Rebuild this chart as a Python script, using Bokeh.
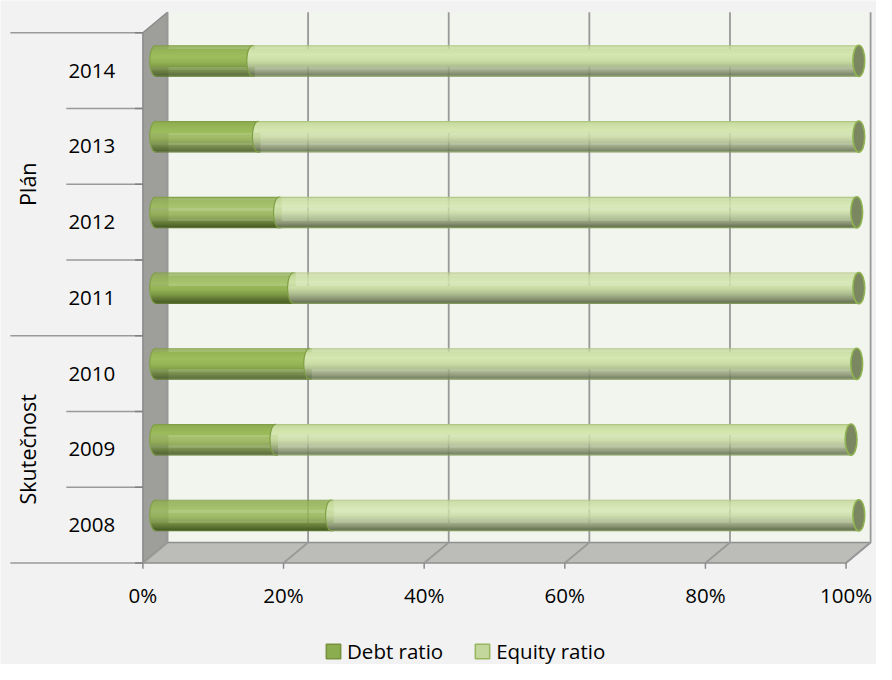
import numpy as np
from bokeh.plotting import figure
from bokeh.models import ColumnDataSource, Legend, LegendItem, Range1d
from bokeh.core.properties import value
from bokeh.embed import file_html
from bokeh.resources import INLINE

# ---------------- data ----------------
years = ["2008", "2009", "2010", "2011", "2012", "2013", "2014"]
groups = ["Skutečnost", "Plán"]
group_sizes = [3, 4]
debt_ratio = [25.0, 17.1, 21.9, 19.6, 17.6, 14.6, 13.8]
equity_ratio = [75.0, 81.8, 77.8, 80.4, 82.1, 85.4, 86.2]
x_ticks = [0, 20, 40, 60, 80, 100]
x_tick_labels = ["0%", "20%", "40%", "60%", "80%", "100%"]
series_names = ["Debt ratio", "Equity ratio"]

# ---------------- geometry (styling) ----------------
W, H = 876, 664
KX, KY = W / 892.0, H / 680.0      # reference px -> figure px
RSX = 7.16                          # reference px per percent
RSY = 77.57                         # reference px per category
RX0, RY0 = 145, 576                 # reference px of 0 % / front bottom edge
PX, PY = 1.0 / RSX, 1.0 / RSY       # data units per reference px
n = len(years)

def rx(px):
    return (px - RX0) * PX

def ry(py):
    return (RY0 - py) * PY

DX, DY = 25 * PX, 21 * PY          # depth of the 3D box
MDX, MDY = 13 * PX, 10 * PY        # bar plane offset
BH = 32 * PY                        # bar thickness
CAP = 6 * PX                        # ellipse half width
NS = 32                             # gradient strips
FONT = "Open Sans"
FS = "20.5px"

p = figure(width=W, height=H,
           x_range=Range1d(rx(0), rx(892)),
           y_range=Range1d(ry(680), ry(0)),
           output_backend="svg", toolbar_location=None,
           x_axis_location=None, y_axis_location=None,
           min_border=0, background_fill_color="#f2f2f2",
           border_fill_color="#f2f2f2", outline_line_color=None)
p.xgrid.visible = False
p.ygrid.visible = False

# back wall
p.quad(left=[DX], right=[x_ticks[-1] + DX], bottom=[DY], top=[n + DY],
       fill_color="#f2f4ee", line_color=None)
# side wall
p.patch([0, DX, DX, 0], [0, DY, n + DY, n], fill_color="#9e9e9a",
        line_color="#8a8a8a", line_width=1.5)
# floor
p.patch([0, DX, x_ticks[-1] + DX, x_ticks[-1]], [0, DY, DY, 0],
        fill_color="#bcbcb8", line_color="#8f8f8f", line_width=1.5)
# back gridlines + floor diagonals
gx, gy = [], []
for t in x_ticks:
    gx.append([t, t + DX, t + DX])
    gy.append([0, DY, n + DY])
p.multi_line(gx, gy, line_color="#999999", line_width=1.8)
# front ticks
p.segment(x0=x_ticks, y0=[0] * len(x_ticks), x1=x_ticks,
          y1=[-6 * PY] * len(x_ticks), line_color="#8a8a8a", line_width=1.5)

# left category separators
bounds = list(range(n + 1))
group_bounds = [0] + [int(v) for v in np.cumsum(group_sizes)]
sx0 = [rx(10) if b in group_bounds else rx(67) for b in bounds]
p.segment(x0=sx0, y0=bounds, x1=[0] * len(bounds), y1=bounds,
          line_color="#9a9a9a", line_width=1.6)
p.segment(x0=[-8 * PX] * len(bounds), y0=bounds, x1=[0] * len(bounds), y1=bounds,
          line_color="#7f7f7f", line_width=1.6)

# ---------------- cylinders ----------------
def hex2rgb(h):
    h = h.lstrip("#")
    return np.array([int(h[i:i + 2], 16) for i in (0, 2, 4)], dtype=float)

def grad(stops, s):
    for (a, ca), (b, cb) in zip(stops[:-1], stops[1:]):
        if a <= s <= b:
            f = (s - a) / (b - a) if b > a else 0
            c = hex2rgb(ca) * (1 - f) + hex2rgb(cb) * f
            return "#%02x%02x%02x" % tuple(int(round(v)) for v in c)
    return stops[-1][1]

debt_stops = [(0, "#7b9a43"), (0.06, "#8fae51"), (0.35, "#9ebe5d"), (0.55, "#93b254"),
              (0.72, "#7a9644"), (0.88, "#5b7132"), (0.96, "#4a5e26"), (1.0, "#678638")]
eq_stops = [(0, "#a6c077"), (0.06, "#c8dba1"), (0.3, "#d5e7b1"), (0.5, "#cbdda6"),
            (0.68, "#aebe8f"), (0.85, "#8a9575"), (0.95, "#6a7555"), (1.0, "#8ca85e")]

def strips(starts, ends, stops):
    L, R, T, B, C = [], [], [], [], []
    for i in range(n):
        yc = i + 0.5 + MDY
        for j in range(NS):
            s = (j + 0.5) / NS
            t = 1 - 2 * s
            cap = CAP * np.sqrt(max(0.0, 1 - t * t))
            top = yc + BH / 2 - j * BH / NS
            L.append(starts[i] + MDX - cap)
            R.append(ends[i] + MDX)
            T.append(top)
            B.append(top - BH / NS - 0.2 * PY)
            C.append(grad(stops, s))
    return ColumnDataSource(dict(left=L, right=R, top=T, bottom=B, color=C))

totals = [d + e for d, e in zip(debt_ratio, equity_ratio)]
zeros = [0.0] * n
p.quad(left="left", right="right", top="top", bottom="bottom", fill_color="color",
       line_color=None, source=strips(zeros, [d + 0.3 for d in debt_ratio], debt_stops))
p.quad(left="left", right="right", top="top", bottom="bottom", fill_color="color",
       line_color=None, source=strips(debt_ratio, totals, eq_stops))

# left arcs
def arcs(starts):
    xs, ys = [], []
    tt = np.linspace(-1, 1, 25)
    for i in range(n):
        yc = i + 0.5 + MDY
        xs.append(list(starts[i] + MDX - CAP * np.sqrt(1 - tt ** 2)))
        ys.append(list(yc + tt * BH / 2))
    return xs, ys

ax, ay = arcs(zeros)
p.multi_line(ax, ay, line_color="#80a048", line_width=1.2)
ax, ay = arcs(debt_ratio)
p.multi_line(ax, ay, line_color="#7f9f44", line_width=1.2)

# end caps
p.ellipse(x=[t + MDX for t in totals], y=[i + 0.5 + MDY for i in range(n)],
          width=2 * CAP, height=BH, fill_color="#7b8760", line_color="#8fb350",
          line_width=1.6)

# ---------------- texts ----------------
p.text(x=[rx(93)] * n, y=[i + 0.5 for i in range(n)], text=years,
       text_font=value(FONT), text_font_size=FS, text_color="#000000",
       text_align="center", text_baseline="middle")
gmid = [(group_bounds[k] + group_bounds[k + 1]) / 2 for k in range(len(groups))]
p.text(x=[rx(28)] * len(groups), y=gmid, text=groups, angle=np.pi / 2,
       text_font=value(FONT), text_font_size="21.5px", text_color="#000000",
       text_align="center", text_baseline="middle")
p.text(x=x_ticks, y=[ry(609)] * len(x_ticks), text=x_tick_labels,
       text_font=value(FONT), text_font_size=FS, text_color="#000000",
       text_align="center", text_baseline="middle")

# ---------------- legend ----------------
off = rx(-500)
r_d = p.quad(left=[off], right=[off + 1], top=[ry(-500)], bottom=[ry(-490)],
             fill_color="#8cac50", line_color="#76923c", line_width=1.5)
r_e = p.quad(left=[off], right=[off + 1], top=[ry(-500)], bottom=[ry(-490)],
             fill_color="#c3d69b", line_color="#98b65c", line_width=1.5)
legend = Legend(items=[LegendItem(label=series_names[0], renderers=[r_d]),
                       LegendItem(label=series_names[1], renderers=[r_e])],
                orientation="horizontal", location=(round(332 * KX) - 2, -1),
                glyph_width=18, glyph_height=18, label_standoff=5, spacing=30,
                padding=0, margin=0, border_line_alpha=0, background_fill_alpha=0,
                label_text_font=FONT, label_text_font_size=FS,
                label_text_color="#000000", label_height=14)
p.add_layout(legend)

html = file_html(p, INLINE)
html = html.replace("<body>", '<body style="background-color:#f2f2f2;">', 1)
open("out.html", "w").write(html)
